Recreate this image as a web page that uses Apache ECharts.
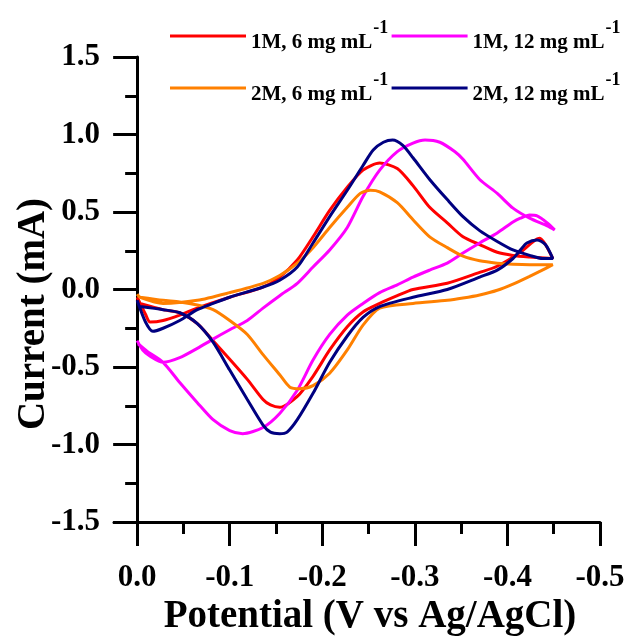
<!DOCTYPE html>
<html>
<head>
<meta charset="utf-8">
<script src="https://cdn.jsdelivr.net/npm/echarts@6/dist/echarts.min.js"></script>
<style>
html,body{margin:0;padding:0;background:#fff;}
#c{width:629px;height:636px;}
</style>
</head>
<body>
<div id="c"></div>
<script>
// ---- data (potential V, current mA) ----
var seriesNames = ['1M, 6 mg mL', '1M, 12 mg mL', '2M, 6 mg mL', '2M, 12 mg mL'];
var seriesColors = ['#FF0000', '#FF00FF', '#FF8000', '#000080'];

var xTickValues = [0, -0.1, -0.2, -0.3, -0.4, -0.5];
var xMinorValues = [-0.05, -0.15, -0.25, -0.35, -0.45];
var xTitle = 'Potential (V vs Ag/AgCl)';
var yTitle = 'Current (mA)';

var red_fwd = [[0,-0.05],[-0.009,-0.16],[-0.014,-0.21],[-0.028,-0.2],[-0.046,-0.165],[-0.065,-0.12],[-0.1,-0.05],[-0.136,0.016],[-0.154,0.08],[-0.173,0.19],[-0.19,0.34],[-0.208,0.51],[-0.227,0.66],[-0.244,0.77],[-0.262,0.816],[-0.281,0.78],[-0.298,0.67],[-0.316,0.53],[-0.335,0.43],[-0.352,0.34],[-0.37,0.29],[-0.389,0.24],[-0.406,0.22],[-0.424,0.21],[-0.449,0.2]];
var red_rev = [[-0.449,0.2],[-0.441,0.29],[-0.435,0.33],[-0.428,0.31],[-0.414,0.24],[-0.389,0.15],[-0.37,0.11],[-0.335,0.04],[-0.298,0.0],[-0.281,-0.04],[-0.262,-0.09],[-0.244,-0.145],[-0.227,-0.24],[-0.208,-0.39],[-0.19,-0.56],[-0.173,-0.69],[-0.154,-0.76],[-0.144,-0.745],[-0.136,-0.71],[-0.119,-0.58],[-0.1,-0.45],[-0.082,-0.33],[-0.065,-0.22],[-0.046,-0.15],[-0.028,-0.13],[-0.003,-0.09]];

var mag_fwd = [[0,-0.33],[-0.006,-0.39],[-0.014,-0.43],[-0.028,-0.47],[-0.046,-0.44],[-0.065,-0.38],[-0.082,-0.32],[-0.1,-0.26],[-0.119,-0.2],[-0.136,-0.12],[-0.154,-0.04],[-0.173,0.04],[-0.19,0.145],[-0.208,0.255],[-0.227,0.4],[-0.244,0.6],[-0.262,0.77],[-0.281,0.89],[-0.298,0.945],[-0.311,0.965],[-0.327,0.95],[-0.343,0.89],[-0.352,0.84],[-0.37,0.71],[-0.389,0.62],[-0.406,0.525],[-0.424,0.46],[-0.443,0.41],[-0.451,0.385]];
var mag_rev = [[-0.451,0.385],[-0.443,0.43],[-0.432,0.475],[-0.424,0.48],[-0.414,0.46],[-0.406,0.435],[-0.389,0.365],[-0.37,0.3],[-0.352,0.235],[-0.335,0.17],[-0.316,0.125],[-0.298,0.08],[-0.281,0.03],[-0.262,-0.02],[-0.244,-0.09],[-0.227,-0.165],[-0.208,-0.29],[-0.19,-0.455],[-0.173,-0.65],[-0.154,-0.8],[-0.136,-0.89],[-0.114,-0.93],[-0.1,-0.91],[-0.082,-0.84],[-0.065,-0.73],[-0.046,-0.6],[-0.028,-0.47],[-0.011,-0.4],[-0.001,-0.35]];

var org_fwd = [[0,-0.03],[-0.003,-0.05],[-0.028,-0.09],[-0.065,-0.07],[-0.1,-0.02],[-0.136,0.04],[-0.154,0.09],[-0.173,0.17],[-0.19,0.27],[-0.208,0.4],[-0.227,0.53],[-0.241,0.62],[-0.252,0.64],[-0.262,0.63],[-0.281,0.56],[-0.298,0.45],[-0.316,0.34],[-0.335,0.27],[-0.352,0.215],[-0.37,0.185],[-0.389,0.17],[-0.406,0.163],[-0.424,0.16],[-0.449,0.16]];
var org_rev = [[-0.449,0.16],[-0.436,0.12],[-0.424,0.085],[-0.406,0.035],[-0.389,-0.005],[-0.37,-0.035],[-0.352,-0.055],[-0.335,-0.07],[-0.298,-0.09],[-0.262,-0.12],[-0.244,-0.23],[-0.227,-0.39],[-0.208,-0.54],[-0.19,-0.62],[-0.176,-0.64],[-0.165,-0.63],[-0.154,-0.55],[-0.136,-0.42],[-0.119,-0.29],[-0.1,-0.2],[-0.082,-0.13],[-0.065,-0.1],[-0.046,-0.08],[-0.028,-0.07],[-0.003,-0.05]];

var nav_fwd = [[0,-0.07],[-0.009,-0.21],[-0.017,-0.27],[-0.028,-0.25],[-0.046,-0.2],[-0.065,-0.13],[-0.082,-0.09],[-0.1,-0.05],[-0.136,0.016],[-0.154,0.06],[-0.173,0.145],[-0.19,0.3],[-0.208,0.47],[-0.227,0.64],[-0.244,0.8],[-0.255,0.9],[-0.266,0.95],[-0.276,0.965],[-0.287,0.93],[-0.298,0.85],[-0.316,0.71],[-0.335,0.58],[-0.352,0.47],[-0.37,0.38],[-0.389,0.31],[-0.406,0.255],[-0.424,0.22],[-0.438,0.2],[-0.449,0.2]];
var nav_rev = [[-0.449,0.2],[-0.441,0.29],[-0.432,0.32],[-0.421,0.3],[-0.414,0.255],[-0.406,0.2],[-0.389,0.125],[-0.37,0.08],[-0.335,0.0],[-0.298,-0.05],[-0.262,-0.11],[-0.244,-0.18],[-0.227,-0.3],[-0.208,-0.47],[-0.19,-0.67],[-0.173,-0.84],[-0.162,-0.92],[-0.154,-0.93],[-0.144,-0.92],[-0.136,-0.875],[-0.119,-0.71],[-0.1,-0.52],[-0.082,-0.34],[-0.065,-0.22],[-0.046,-0.15],[-0.028,-0.13],[-0.003,-0.11]];

var curves = [red_fwd.concat(red_rev), mag_fwd.concat(mag_rev), org_fwd.concat(org_rev), nav_fwd.concat(nav_rev)];

var FF = "'Liberation Serif','Times New Roman',serif";
var chart = echarts.init(document.getElementById('c'), null, {renderer: 'canvas'});

function legendCfg(names, top) {
  return {
    data: names, left: 170, top: top, orient: 'horizontal',
    icon: 'rect', itemWidth: 76, itemHeight: 3, itemGap: 3, padding: 0,
    formatter: function (n) { return '{m|' + n + '}{s|-1}{h| }'; },
    textStyle: {
      color: '#000',
      rich: {
        m: {fontSize: 21, fontWeight: 'bold', fontFamily: FF, color: '#000', lineHeight: 24, verticalAlign: 'bottom'},
        s: {fontSize: 18, fontWeight: 'bold', fontFamily: FF, color: '#000', lineHeight: 18, verticalAlign: 'top', padding: [0, 0, 0, 1]},
        h: {fontSize: 1, lineHeight: 34}
      }
    }
  };
}

var axisLineStyle = {color: '#000', width: 3};
var series = [];
for (var i = 0; i < curves.length; i++) {
  series.push({
    name: seriesNames[i], type: 'line', data: curves[i], xAxisIndex: 0,
    showSymbol: false, symbol: 'none', smooth: 0.25, color: seriesColors[i],
    lineStyle: {width: 3, color: seriesColors[i]}
  });
}

chart.setOption({
  animation: false,
  backgroundColor: '#fff',
  grid: {left: 114, right: 29, top: 57, bottom: 114, containLabel: false, outerBoundsMode: 'none'},
  legend: [legendCfg([seriesNames[0], seriesNames[1]], 19), legendCfg([seriesNames[2], seriesNames[3]], 71)],
  graphic: [{
    type: 'text', x: 34, y: 314, rotation: Math.PI / 2,
    style: {text: yTitle, fontSize: 39, fontWeight: 'bold', fontFamily: FF, fill: '#000',
      textAlign: 'center', textVerticalAlign: 'middle'}
  }],
  xAxis: [{
    type: 'value', min: -0.5, max: 0.025, inverse: true, position: 'bottom',
    axisLine: {onZero: false, lineStyle: axisLineStyle},
    axisTick: {show: true, customValues: xTickValues, length: 24, lineStyle: axisLineStyle},
    axisLabel: {customValues: xTickValues, margin: 40, fontSize: 31, fontWeight: 'bold', fontFamily: FF, color: '#000',
      formatter: function (v) { return Number(v).toFixed(1); }},
    splitLine: {show: false},
    name: xTitle, nameLocation: 'middle', nameGap: 69,
    nameTextStyle: {fontSize: 39, fontWeight: 'bold', fontFamily: FF, color: '#000', padding: [0, 0, 0, 26]}
  }, {
    type: 'value', min: -0.5, max: 0.025, inverse: true, position: 'bottom',
    axisLine: {show: false, onZero: false},
    axisTick: {show: true, customValues: xMinorValues, length: 12, lineStyle: axisLineStyle},
    axisLabel: {show: false},
    splitLine: {show: false}
  }],
  yAxis: {
    type: 'value', min: -1.5, max: 1.5, interval: 0.5,
    axisLine: {onZero: true, onZeroAxisIndex: 0, lineStyle: axisLineStyle},
    axisTick: {length: 24, lineStyle: axisLineStyle},
    minorTick: {show: true, splitNumber: 2, length: 12, lineStyle: axisLineStyle},
    axisLabel: {margin: 14, fontSize: 31, fontWeight: 'bold', fontFamily: FF, color: '#000',
      formatter: function (v) { return Number(v).toFixed(1); }},
    splitLine: {show: false}, minorSplitLine: {show: false}
  },
  series: series
});
</script>
</body>
</html>
